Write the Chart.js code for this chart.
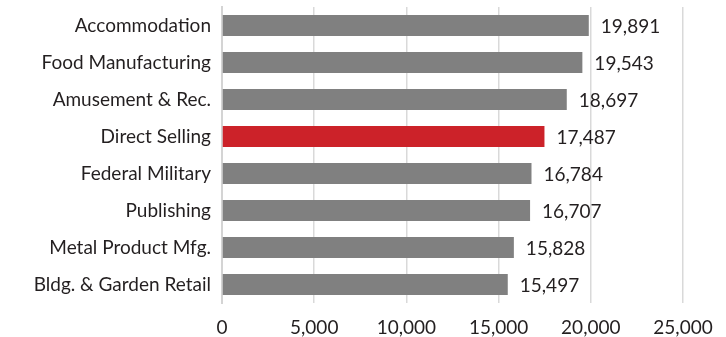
<!DOCTYPE html>
<html><head><meta charset="utf-8">
<script src="https://cdn.jsdelivr.net/npm/chart.js@4"></script>
<style>html,body{margin:0;padding:0;background:#fff}#wrap{width:726px;height:337px}</style>
</head><body><div id="wrap"><canvas id="c"></canvas></div>
<script>
const categories = ["Accommodation","Food Manufacturing","Amusement & Rec.","Direct Selling","Federal Military","Publishing","Metal Product Mfg.","Bldg. & Garden Retail"];
const values = [19891,19543,18697,17487,16784,16707,15828,15497];
const highlight = "Direct Selling";
const xTicks = [0,5000,10000,15000,20000,25000];

const FONT = "Lato, sans-serif";
const FS = 19;
const TXT = '#231f20';
const fmt = v => v.toLocaleString('en-US');

const valueLabels = {
  id:'valueLabels',
  afterDatasetsDraw(chart){
    const ctx = chart.ctx;
    const meta = chart.getDatasetMeta(0);
    ctx.save();
    ctx.font = FS + "px " + FONT;
    ctx.fillStyle = TXT;
    ctx.textAlign = 'left';
    ctx.textBaseline = 'middle';
    meta.data.forEach((bar,i)=>{
      ctx.fillText(fmt(values[i]), bar.x + 12, bar.y + 1);
    });
    ctx.restore();
  }
};

new Chart(document.getElementById('c'),{
  type:'bar',
  data:{labels:categories,datasets:[{
    data:values,
    backgroundColor:categories.map(c=>c===highlight?'#cc2229':'#808080'),
    borderWidth:0,
    categoryPercentage:0.57,
    barPercentage:1
  }]},
  options:{
    indexAxis:'y',
    responsive:true,maintainAspectRatio:false,animation:false,
    layout:{padding:{top:7,right:43,left:0,bottom:0}},
    plugins:{legend:{display:false},tooltip:{enabled:false}},
    scales:{
      x:{
        min:0,max:25000,
        afterBuildTicks(s){s.ticks = xTicks.map(v=>({value:v}));},
        afterFit(s){s.height = 34;},
        grid:{color:'#d9d9d9',lineWidth:1.5,drawTicks:false},
        border:{display:false},
        ticks:{padding:13,color:TXT,font:{family:FONT,size:FS},callback:v=>fmt(v),maxRotation:0}
      },
      y:{
        afterFit(s){s.width = 222; s.paddingTop = 0; s.paddingBottom = 0;},
        grid:{display:false,drawTicks:false},
        border:{display:true,color:'#d4d4d4',width:2},
        ticks:{padding:11,color:TXT,font:{family:FONT,size:FS}}
      }
    }
  },
  plugins:[valueLabels]
});
</script></body></html>
